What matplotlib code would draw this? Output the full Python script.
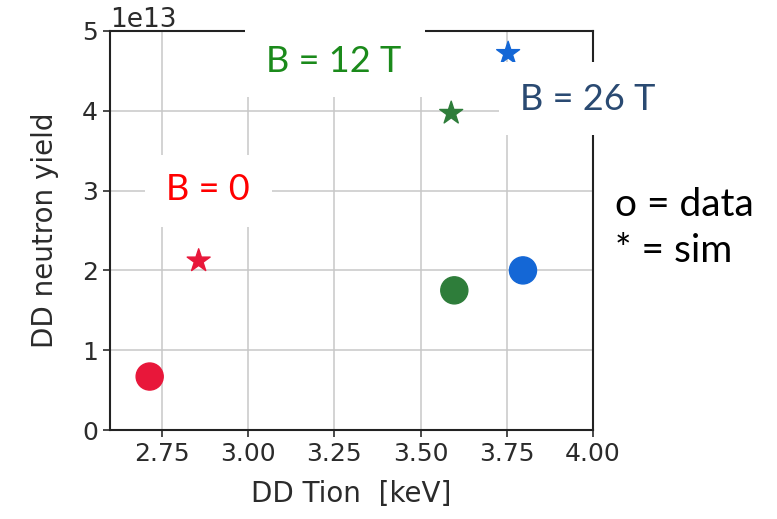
import matplotlib
matplotlib.use("Agg")
import matplotlib.pyplot as plt
from matplotlib.patches import Rectangle

# measured points (o) and simulation (*) per field strength
labels = ["B = 0", "B = 12 T", "B = 26 T"]
colors = ["#e8173a", "#2e7d3a", "#1467d6"]
tion_data = [2.715, 3.598, 3.797]
yield_data = [0.67e13, 1.75e13, 2.00e13]
tion_sim = [2.857, 3.589, 3.754]
yield_sim = [2.12e13, 3.97e13, 4.72e13]

W, H = 777, 519
fig = plt.figure(figsize=(W / 100, H / 100), dpi=100)
ax = fig.add_axes([110 / W, 1 - 430 / H, 483 / W, 399 / H])

ax.scatter(tion_data, yield_data, s=380, c=colors, marker="o", zorder=3)
ax.scatter(tion_sim, yield_sim, s=300, c=colors, marker="*", zorder=3)

ax.set_xlim(2.6, 4.0)
ax.set_ylim(0, 5e13)
ax.set_xticks([2.75, 3.0, 3.25, 3.5, 3.75, 4.0])
ax.set_yticks([0, 1e13, 2e13, 3e13, 4e13, 5e13])
ax.grid(color="#c8c8c8", linewidth=1.1)
ax.set_axisbelow(True)
ax.tick_params(labelsize=18, colors="#2b2b2b", width=1.2, length=5)
ax.yaxis.get_offset_text().set_fontsize(19)
ax.yaxis.get_offset_text().set_color("#2b2b2b")
for sp in ax.spines.values():
    sp.set_linewidth(1.5)
    sp.set_color("#222222")

ax.set_xlabel("DD Tion  [keV]", fontsize=20, color="#2b2b2b", labelpad=10)
ax.set_ylabel("DD neutron yield", fontsize=20, color="#2b2b2b", labelpad=17)


def px_rect(x0, y0, x1, y1):
    # white patch given in pixel coords, origin at top left
    fig.patches.append(Rectangle((x0 / W, 1 - y1 / H), (x1 - x0) / W, (y1 - y0) / H,
                                 transform=fig.transFigure, fc="white", ec="none",
                                 zorder=5))


def px_text(x, y, s, color, **kw):
    fig.text(x / W, 1 - y / H, s, color=color, family=["Lato", "DejaVu Sans"],
             zorder=6, **kw)


# field labels on white boxes over the plot
px_rect(245, 0, 425, 97)
px_text(334, 62, labels[1], "#1b8a1b", fontsize=26, ha="center", va="center")
px_rect(145, 155, 272, 227)
px_text(208, 190, labels[0], "#ff0000", fontsize=26, ha="center", va="center")
px_rect(499, 62, 660, 135)
px_text(588, 100, labels[2], "#2a4a72", fontsize=26, ha="center", va="center")

px_text(615, 228, "o = data\n* = sim", "black", fontsize=28, ha="left",
        va="center", linespacing=1.35)

fig.savefig("out.png", dpi=100)
